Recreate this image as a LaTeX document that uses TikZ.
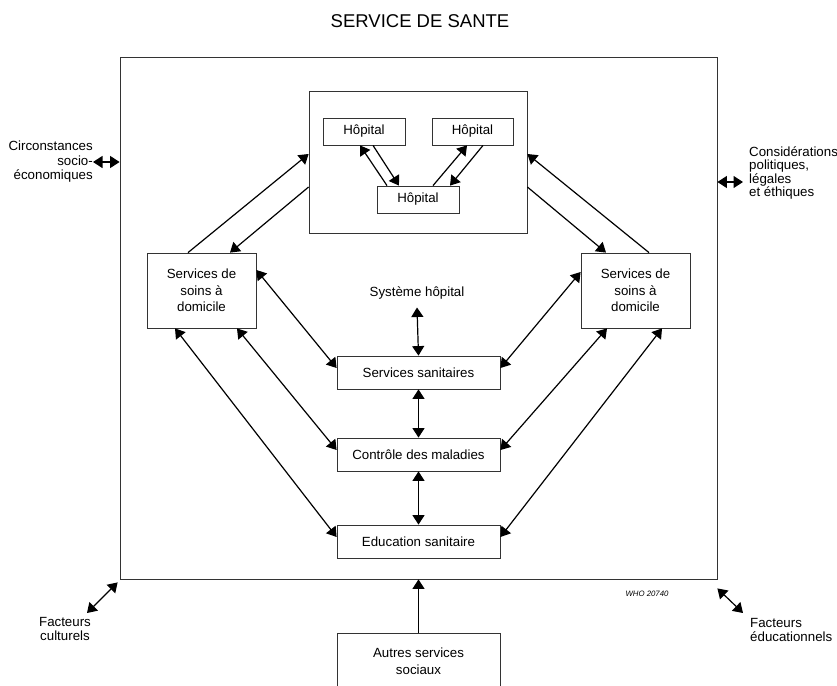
\documentclass[tikz,border=0pt]{standalone}
\usepackage{fontspec}
\setmainfont{Liberation Sans}
\usetikzlibrary{arrows.meta}

\begin{document}
\begin{tikzpicture}[x=1pt,y=-1pt,
	every node/.style={font=\fontsize{13.3}{16.5}\selectfont},
	box/.style={draw=black!80,line width=0.8pt,inner sep=0pt,align=center},
	lbl/.style={inner sep=0pt,align=center},
	>={Triangle[length=9.5pt,width=12pt]}]
		\useasboundingbox (0,0) rectangle (837,685);
		\node[lbl,font=\fontsize{18.5}{22}\selectfont] (titre) at (420,21.5) {SERVICE DE SANTE};
		\node[box,minimum width=597,minimum height=522] (sante) at (418.5,318) {};
		%
		\node[box,minimum width=218,minimum height=142] (hsys) at (418,162) {};
		\node[box,minimum width=82,minimum height=27] (h1) at (364,131.5) {Hôpital};
		\node[box,minimum width=81,minimum height=27] (h2) at (472.5,131.5) {Hôpital};
		\node[box,minimum width=82,minimum height=27] (h3) at (418,199.5) {Hôpital};
		\node[box,minimum width=109,minimum height=75] (soinsG) at (201.5,290.5) {Services de\\soins à\\domicile};
		\node[box,minimum width=109,minimum height=75] (soinsD) at (635.5,290.5) {Services de\\soins à\\domicile};
		\node[lbl] (syshop) at (417,293) {Système hôpital};
		\node[box,minimum width=163,minimum height=33] (sanit) at (418.5,372.5) {Services sanitaires};
		\node[box,minimum width=163,minimum height=33] (maladies) at (418.5,454.5) {Contrôle des maladies};
		\node[box,minimum width=163,minimum height=33] (educ) at (418.5,541.5) {Education sanitaire};
		\node[box,minimum width=163,minimum height=56] (autres) at (418.5,661) {Autres services\\sociaux};
		%
		\node[lbl,anchor=east,align=right,font=\fontsize{13.3}{14.5}\selectfont] (circ) at (93,162) {Circonstances\\socio-\\économiques};
		\node[lbl,anchor=west,align=left,font=\fontsize{13.3}{13.5}\selectfont] (consid) at (749,173) {Considérations\\politiques,\\légales\\et éthiques};
		\node[lbl,font=\fontsize{13.3}{14}\selectfont] (cult) at (65,629) {Facteurs\\culturels};
		\node[lbl,anchor=west,align=left,font=\fontsize{13.3}{14}\selectfont] (educf) at (750,630) {Facteurs\\éducationnels};
		\node[lbl,font=\itshape\fontsize{7.8}{9}\selectfont] (who) at (647,594) {WHO 20740};
		\coordinate (consbout) at (743,182);
		\coordinate (cultbout) at (87,613);
		\coordinate (educbout) at (743,613);
		%
		\path[->,line width=1.2pt]
		([xshift=-31pt]h3.north) edge ([xshift=-4pt]h1.south)
		([xshift=9pt]h1.south) edge ([xshift=-19pt]h3.north)
		([xshift=15pt]h3.north) edge ([xshift=-5.5pt]h2.south)
		([xshift=10.5pt]h2.south) edge ([xshift=32pt]h3.north)
		([xshift=-13.5pt]soinsG.north) edge ([yshift=8pt]hsys.west)
		([yshift=-25pt]hsys.west) edge ([xshift=28.5pt]soinsG.north)
		([xshift=13.5pt]soinsD.north) edge ([yshift=8pt]hsys.east)
		([yshift=-25pt]hsys.east) edge ([xshift=-29.5pt]soinsD.north)
		(autres.north) edge (sante.south);
		%
		\path[<->,line width=1.2pt]
		([yshift=20.5pt]soinsG.east) edge ([yshift=4.5pt]sanit.west)
		([xshift=35.5pt]soinsG.south) edge ([yshift=4.5pt]maladies.west)
		([xshift=-26.5pt]soinsG.south) edge ([yshift=4.5pt]educ.west)
		([yshift=18.5pt]soinsD.west) edge ([yshift=4.5pt]sanit.east)
		([xshift=-28.5pt]soinsD.south) edge ([yshift=4.5pt]maladies.east)
		([xshift=26.5pt]soinsD.south) edge ([yshift=4.5pt]educ.east)
		([yshift=-8pt]syshop.south) edge (sanit.north)
		(sanit.south) edge (maladies.north)
		(maladies.south) edge (educ.north)
		(circ.east) edge (circ.east -| sante.west)
		(consbout -| sante.east) edge (consbout)
		([shift={(-2,3)}]sante.south west) edge (cultbout)
		([shift={(0,9)}]sante.south east) edge (educbout);
\end{tikzpicture}
\end{document}
